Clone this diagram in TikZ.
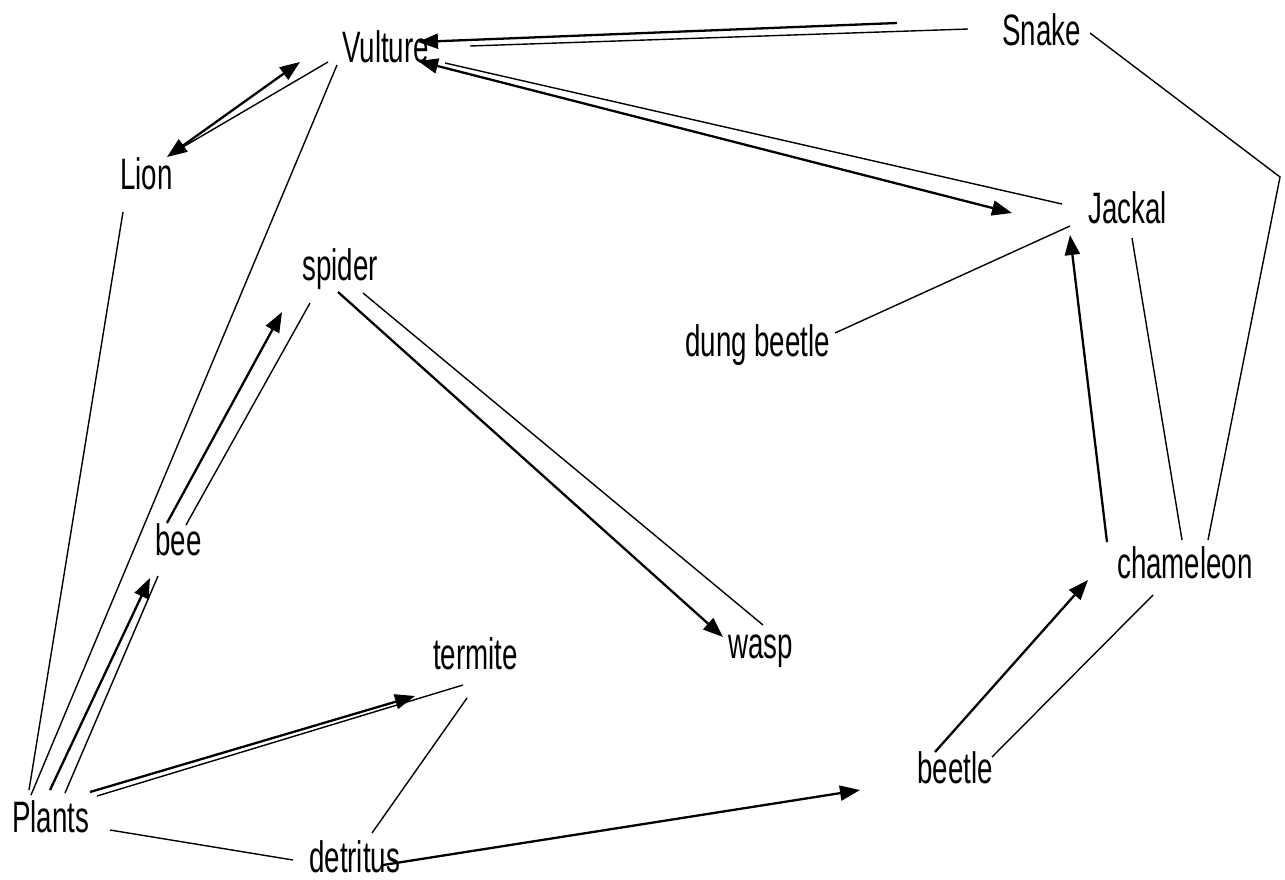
\documentclass[tikz,border=0pt]{standalone}
\usepackage{fontspec}
\usepackage{graphicx}
\setmainfont{Liberation Sans}
\usetikzlibrary{arrows.meta}
\newcommand\foodlbl[1]{\scalebox{0.63}[1]{#1}}
\tikzset{
  lbl/.style={inner sep=0pt, anchor=base west, text depth=0pt, font=\fontsize{44}{44}\selectfont},
  thin/.style={line width=1.4pt, black},
  feeds/.style={line width=2.3pt, black, -{Triangle[length=20pt,width=15pt]}},
  mutual/.style={line width=2.3pt, black, {Triangle[length=20pt,width=15pt]}-{Triangle[length=20pt,width=15pt]}}
}
\begin{document}
\begin{tikzpicture}[x=1pt,y=-1pt]
\useasboundingbox (0,0) rectangle (1285,879);
% labels
\node[lbl] (vulture) at (342,62) {\foodlbl{Vulture}};
\node[lbl] (snake) at (1002,45) {\foodlbl{Snake}};
\node[lbl] (lion) at (120,189) {\foodlbl{Lion}};
\node[lbl] (jackal) at (1088,223) {\foodlbl{Jackal}};
\node[lbl] (spider) at (302,280) {\foodlbl{spider}};
\node[lbl] (dung) at (685,356) {\foodlbl{dung beetle}};
\node[lbl] (bee) at (155,555) {\foodlbl{bee}};
\node[lbl] (chameleon) at (1117,578) {\foodlbl{chameleon}};
\node[lbl] (wasp) at (728,658) {\foodlbl{wasp}};
\node[lbl] (termite) at (433,669) {\foodlbl{termite}};
\node[lbl] (beetle) at (917,783) {\foodlbl{beetle}};
\node[lbl] (plants) at (12,832) {\foodlbl{Plants}};
\node[lbl] (detritus) at (309,872) {\foodlbl{detritus}};
% endpoints
\coordinate (vS1) at (418,42);  \coordinate (sV1) at (897,23);
\coordinate (vS2) at (470,46);  \coordinate (sV2) at (968,29);
\coordinate (vJ1) at (418,61);  \coordinate (jV1) at (1012,213);
\coordinate (vJ2) at (445,63);  \coordinate (jV2) at (1062,204);
\coordinate (vL1) at (300,62);  \coordinate (lV1) at (167,157);
\coordinate (vL2) at (328,62);  \coordinate (lV2) at (183,147);
\coordinate (vP) at (337,65);   \coordinate (pV) at (31,795);
\coordinate (lP) at (123,212);  \coordinate (pL) at (29,790);
\coordinate (pB1) at (50,790);  \coordinate (bP1) at (150,578);
\coordinate (pB2) at (65,793);  \coordinate (bP2) at (158,576);
\coordinate (bS1) at (167,523); \coordinate (sB1) at (282,312);
\coordinate (bS2) at (186,525); \coordinate (sB2) at (310,303);
\coordinate (sW1) at (338,292); \coordinate (wS1) at (723,637);
\coordinate (sW2) at (363,293); \coordinate (wS2) at (763,625);
\coordinate (dJ) at (835,333);  \coordinate (jD) at (1070,226);
\coordinate (cJ1) at (1107,542); \coordinate (jC1) at (1070,235);
\coordinate (jC2) at (1132,238); \coordinate (cJ2) at (1182,540);
\coordinate (sC) at (1090,33);  \coordinate (bend) at (1280,177); \coordinate (cS) at (1208,540);
\coordinate (btC1) at (935,752); \coordinate (cBt1) at (1088,580);
\coordinate (btC2) at (992,757); \coordinate (cBt2) at (1153,595);
\coordinate (pT1) at (90,792);  \coordinate (tP1) at (415,696);
\coordinate (pT2) at (97,796);  \coordinate (tP2) at (463,685);
\coordinate (tD) at (467,698);  \coordinate (dT) at (372,833);
\coordinate (pD) at (110,830);  \coordinate (dP) at (293,860);
\coordinate (dBt) at (383,865); \coordinate (btD) at (860,790);
% thin links
\draw[thin] (sV2) -- (vS2);
\draw[thin] (jV2) -- (vJ2);
\draw[thin] (vL2) -- (lV2);
\draw[thin] (vP) -- (pV);
\draw[thin] (lP) -- (pL);
\draw[thin] (pB2) -- (bP2);
\draw[thin] (bS2) -- (sB2);
\draw[thin] (sW2) -- (wS2);
\draw[thin] (dJ) -- (jD);
\draw[thin] (jC2) -- (cJ2);
\draw[thin] (sC) -- (bend) -- (cS);
\draw[thin] (btC2) -- (cBt2);
\draw[thin] (pT2) -- (tP2);
\draw[thin] (tD) -- (dT);
\draw[thin] (pD) -- (dP);
% arrows
\draw[feeds] (sV1) -- (vS1);
\draw[mutual] (vJ1) -- (jV1);
\draw[mutual] (vL1) -- (lV1);
\draw[feeds] (pB1) -- (bP1);
\draw[feeds] (bS1) -- (sB1);
\draw[feeds] (sW1) -- (wS1);
\draw[feeds] (cJ1) -- (jC1);
\draw[feeds] (btC1) -- (cBt1);
\draw[feeds] (pT1) -- (tP1);
\draw[feeds] (dBt) -- (btD);
\end{tikzpicture}
\end{document}
